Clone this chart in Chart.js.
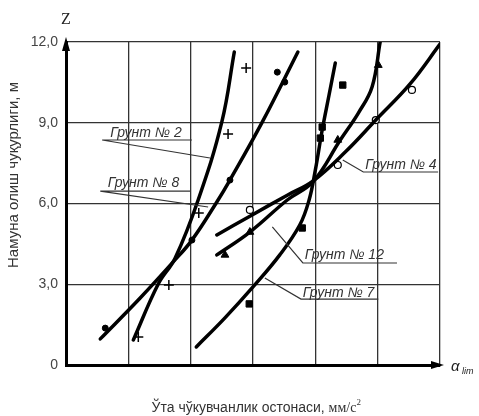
<!DOCTYPE html>
<html>
<head>
<meta charset="utf-8">
<script src="https://cdn.jsdelivr.net/npm/chart.js@4.4.0/dist/chart.umd.min.js"></script>
<style>
  html, body { margin: 0; padding: 0; background: #fff; }
  #wrap { width: 479px; height: 416px; }
</style>
</head>
<body>
<div id="wrap"><canvas id="c"></canvas></div>
<script>
// tick labels of the vertical axis
const yTicks = [0, 3, 6, 9, 12];
const yTickLabels = ['0', '3,0', '6,0', '9,0', '12,0'];

// fitted curves (x in grid cells, y = depth Z, m)
const soil2X = [1.08, 1.48, 1.75, 2.12, 2.50, 2.70];
const soil2Y = [0.93, 3.01, 3.97, 6.13, 9.03, 11.63];
const soil8X = [0.55, 1.19, 1.72, 2.02, 2.41, 2.63, 3.15, 3.72];
const soil8Y = [0.97, 2.49, 3.83, 4.64, 6.02, 6.87, 9.03, 11.63];
const soil4X = [2.42, 2.95, 3.55, 3.96, 4.48, 4.97, 5.52, 6.0];
const soil4Y = [4.83, 5.53, 6.31, 6.83, 7.91, 9.10, 10.44, 11.92];
const soil12X = [2.42, 2.95, 3.55, 3.96, 4.40, 4.69, 4.91, 5.04];
const soil12Y = [4.09, 4.94, 6.13, 6.80, 8.36, 9.36, 10.33, 12.0];
const soil7X = [2.09, 2.55, 3.00, 3.43, 3.75, 3.90, 4.00, 4.11, 4.22, 4.32];
const soil7Y = [0.67, 1.75, 2.90, 4.09, 5.20, 6.13, 7.24, 8.73, 10.03, 11.22];

// measured points
const pts2X = [1.16, 1.65, 2.13, 2.60, 2.89];
const pts2Y = [1.04, 2.97, 5.65, 8.58, 11.03];
const pts8X = [0.63, 2.02, 2.63, 3.39, 3.51];
const pts8Y = [1.37, 4.64, 6.87, 10.88, 10.51];
const pts4X = [2.95, 4.36, 4.97, 5.55];
const pts4Y = [5.76, 7.43, 9.10, 10.22];
const pts12X = [2.55, 2.95, 4.36, 5.01];
const pts12Y = [4.09, 4.94, 8.36, 11.14];
const pts7X = [2.94, 3.79, 4.08, 4.11, 4.44];
const pts7Y = [2.27, 5.09, 8.43, 8.84, 10.40];

const soilNames = ['Грунт № 2', 'Грунт № 8', 'Грунт № 4', 'Грунт № 12', 'Грунт № 7'];

function xy(xs, ys) { return xs.map((v, i) => ({ x: v, y: ys[i] })); }

function curve(xs, ys) {
  return {
    data: xy(xs, ys), showLine: true, borderColor: '#000', borderWidth: 3.5,
    pointRadius: 0, tension: 0.4, borderCapStyle: 'round'
  };
}
function marks(xs, ys, style, r, fill, bw) {
  return {
    data: xy(xs, ys), showLine: false, pointStyle: style, pointRadius: r,
    backgroundColor: fill, borderColor: '#000', borderWidth: bw
  };
}

// leader lines + captions, in data units: text start, underline end, leader tip
const notes = [
  { t: soilNames[0], tx: 0.71, ty: 8.47, ux0: 0.58, ux1: 2.02, uy: 8.36, px: 2.31, py: 7.69 },
  { t: soilNames[1], tx: 0.67, ty: 6.61, ux0: 0.55, ux1: 1.99, uy: 6.46, px: 2.28, py: 5.87 },
  { t: soilNames[2], tx: 4.80, ty: 7.28, ux0: 4.77, ux1: 5.97, uy: 7.17, px: 4.44, py: 7.62 },
  { t: soilNames[3], tx: 3.83, ty: 3.94, ux0: 3.80, ux1: 5.31, uy: 3.79, px: 3.31, py: 5.13 },
  { t: soilNames[4], tx: 3.80, ty: 2.53, ux0: 3.77, ux1: 5.01, uy: 2.45, px: 3.19, py: 3.23 }
];

const decor = {
  id: 'decor',
  afterDraw(chart) {
    const { ctx, chartArea: a, scales: { x, y } } = chart;
    ctx.save();
    // arrow heads
    ctx.fillStyle = '#000';
    ctx.beginPath();
    ctx.moveTo(a.left, a.top - 5); ctx.lineTo(a.left - 4, a.top + 9); ctx.lineTo(a.left + 4, a.top + 9);
    ctx.fill();
    ctx.beginPath();
    ctx.moveTo(a.right + 4, a.bottom); ctx.lineTo(a.right - 9, a.bottom - 4); ctx.lineTo(a.right - 9, a.bottom + 4);
    ctx.fill();

    // captions
    ctx.strokeStyle = '#333';
    ctx.lineWidth = 1.2;
    ctx.fillStyle = '#333';
    ctx.font = 'italic 14px "Liberation Sans", Arial, sans-serif';
    ctx.textBaseline = 'alphabetic';
    notes.forEach(n => {
      ctx.fillText(n.t, x.getPixelForValue(n.tx), y.getPixelForValue(n.ty));
      ctx.beginPath();
      ctx.moveTo(x.getPixelForValue(n.ux1), y.getPixelForValue(n.uy));
      ctx.lineTo(x.getPixelForValue(n.ux0), y.getPixelForValue(n.uy));
      ctx.lineTo(x.getPixelForValue(n.px), y.getPixelForValue(n.py));
      ctx.stroke();
    });

    // axis letters
    ctx.fillStyle = '#222';
    ctx.textAlign = 'center';
    ctx.font = '16px "Liberation Serif", "Times New Roman", serif';
    ctx.fillText('Z', a.left, 24);
    ctx.textAlign = 'left';
    ctx.font = 'italic 15px "Liberation Sans", Arial, sans-serif';
    ctx.fillText('α', a.right + 11, a.bottom + 6);
    ctx.font = 'italic 9px "Liberation Sans", Arial, sans-serif';
    ctx.fillText('lim', a.right + 22, a.bottom + 9);

    // x title
    const part1 = 'Ўта чўкувчанлик остонаси, ';
    const part2 = 'мм/с';
    ctx.fillStyle = '#333';
    ctx.font = '14px "Liberation Sans", Arial, sans-serif';
    const w1 = ctx.measureText(part1).width;
    ctx.font = '14px "Liberation Serif", "Times New Roman", serif';
    const w2 = ctx.measureText(part2).width;
    const sx = 257 - (w1 + w2 + 6) / 2;
    ctx.font = '14px "Liberation Sans", Arial, sans-serif';
    ctx.fillText(part1, sx, 412);
    ctx.font = '14px "Liberation Serif", "Times New Roman", serif';
    ctx.fillText(part2, sx + w1, 412);
    ctx.font = '9px "Liberation Serif", "Times New Roman", serif';
    ctx.fillText('2', sx + w1 + w2, 405);

    // y title
    ctx.translate(14, 175);
    ctx.rotate(-Math.PI / 2);
    ctx.textAlign = 'center';
    ctx.textBaseline = 'middle';
    ctx.font = '15px "Liberation Sans", Arial, sans-serif';
    ctx.fillText('Намуна олиш чуқурлиги, м', 0, 0);
    ctx.restore();
  }
};

new Chart(document.getElementById('c'), {
  type: 'scatter',
  data: {
    datasets: [
      curve(soil2X, soil2Y), curve(soil8X, soil8Y), curve(soil4X, soil4Y),
      curve(soil12X, soil12Y), curve(soil7X, soil7Y),
      marks(pts2X, pts2Y, 'cross', 5, '#000', 1.5),
      marks(pts8X, pts8Y, 'circle', 3, '#000', 1),
      marks(pts4X, pts4Y, 'circle', 3.5, '#fff', 1.2),
      marks(pts12X, pts12Y, 'triangle', 4.5, '#000', 1),
      marks(pts7X, pts7Y, 'rect', 4.5, '#000', 1)
    ]
  },
  options: {
    responsive: true,
    maintainAspectRatio: false,
    animation: false,
    layout: { padding: { top: 42, right: 39, left: 0, bottom: 0 } },
    plugins: { legend: { display: false }, tooltip: { enabled: false } },
    scales: {
      x: {
        type: 'linear', min: 0, max: 6,
        ticks: { display: false, stepSize: 1 },
        grid: { color: '#333', lineWidth: 1.3, drawTicks: false },
        border: { color: '#000', width: 3 },
        afterFit(s) { s.height = 51; }
      },
      y: {
        type: 'linear', min: 0, max: 12,
        afterBuildTicks(s) { s.ticks = yTicks.map(v => ({ value: v })); },
        ticks: {
          color: '#444', padding: 8,
          font: { family: '"Liberation Sans", Arial, sans-serif', size: 14 },
          callback: (v) => yTickLabels[yTicks.indexOf(v)]
        },
        grid: { color: '#333', lineWidth: 1.3, drawTicks: false },
        border: { color: '#000', width: 3 },
        afterFit(s) { s.width = 66; }
      }
    }
  },
  plugins: [decor]
});
</script>
</body>
</html>
